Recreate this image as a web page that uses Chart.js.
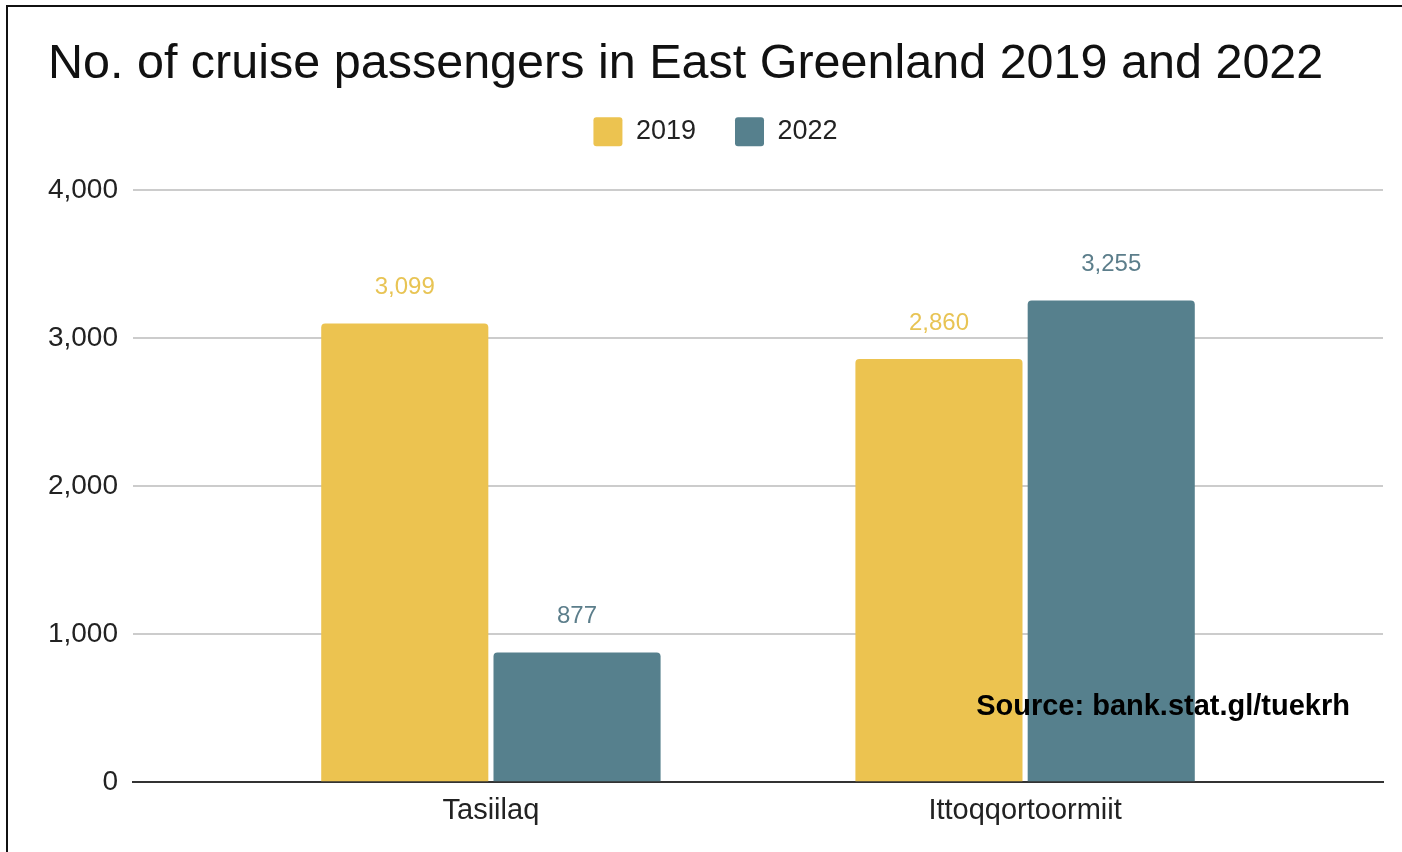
<!DOCTYPE html>
<html>
<head>
<meta charset="utf-8">
<title>Cruise passengers East Greenland</title>
<script src="https://cdn.jsdelivr.net/npm/chart.js@4.4.1/dist/chart.umd.min.js"></script>
<style>
  html, body { margin: 0; padding: 0; background: #fff; }
  #wrap { width: 1402px; height: 852px; position: relative; }
</style>
</head>
<body>
<div id="wrap"><canvas id="chart" width="1402" height="852"></canvas></div>
<script>
const towns = ['Tasiilaq', 'Ittoqqortoormiit'];
const seriesNames = ['2019', '2022'];
const passengers2019 = [3099, 2860];
const passengers2022 = [877, 3255];
const yTicks = [0, 1000, 2000, 3000, 4000];

const barColors = ['rgb(236, 195, 80)', 'rgb(86, 128, 141)'];
const labelColors = ['rgb(232, 196, 84)', 'rgb(92, 126, 139)'];
const fontFamily = '"Liberation Sans", Arial, Helvetica, sans-serif';

const fmt = v => v.toLocaleString('en-US');

// towns sit at x = 1, 2 on a linear axis so the plot can run wider than the groups
function toPoints(values) {
    return values.map((v, i) => ({ x: i + 1, y: v }));
}

// white page + the black frame on the top and left edge
const framePlugin = {
    id: 'frame',
    beforeDraw(chart) {
        const ctx = chart.ctx;
        ctx.save();
        ctx.fillStyle = '#fff';
        ctx.fillRect(0, 0, chart.width, chart.height);
        ctx.fillStyle = '#111';
        ctx.fillRect(6, 5, chart.width - 6, 2);
        ctx.fillRect(6, 5, 2, chart.height - 5);
        ctx.restore();
    }
};

// extra room between the legend and the plot
const legendSpacing = {
    id: 'legendSpacing',
    beforeInit(chart) {
        const originalFit = chart.legend.fit;
        chart.legend.fit = function fit() {
            originalFit.bind(chart.legend)();
            this.height += 34;
        };
    }
};

// value labels above each bar
const valueLabels = {
    id: 'valueLabels',
    afterDatasetsDraw(chart) {
        const ctx = chart.ctx;
        ctx.save();
        ctx.font = '24px ' + fontFamily;
        ctx.textAlign = 'center';
        ctx.textBaseline = 'middle';
        chart.data.datasets.forEach((ds, i) => {
            const meta = chart.getDatasetMeta(i);
            ctx.fillStyle = labelColors[i];
            meta.data.forEach((bar, j) => {
                ctx.fillText(fmt(ds.data[j].y), bar.x, bar.y - 36);
            });
        });
        ctx.restore();
    }
};

const sourceNote = {
    id: 'sourceNote',
    afterDraw(chart) {
        const { ctx, chartArea } = chart;
        ctx.save();
        ctx.font = 'bold 29px ' + fontFamily;
        ctx.fillStyle = '#000';
        ctx.textAlign = 'right';
        ctx.textBaseline = 'middle';
        ctx.fillText('Source: bank.stat.gl/tuekrh', chartArea.right - 33, chartArea.bottom - 75);
        ctx.restore();
    }
};

new Chart(document.getElementById('chart'), {
    type: 'bar',
    data: {
        datasets: [
            {
                label: seriesNames[0],
                data: toPoints(passengers2019),
                backgroundColor: barColors[0],
                borderRadius: 4,
                barPercentage: 0.97,
                categoryPercentage: 0.645
            },
            {
                label: seriesNames[1],
                data: toPoints(passengers2022),
                backgroundColor: barColors[1],
                borderRadius: 4,
                barPercentage: 0.97,
                categoryPercentage: 0.645
            }
        ]
    },
    options: {
        responsive: false,
        animation: false,
        layout: { padding: { left: 48, right: 19, top: 0, bottom: 13 } },
        plugins: {
            title: {
                display: true,
                text: 'No. of cruise passengers in East Greenland 2019 and 2022',
                align: 'start',
                color: '#111',
                font: { family: fontFamily, size: 48.5, weight: 'normal', lineHeight: 1.2 },
                padding: { top: 36, bottom: -16 }
            },
            legend: {
                position: 'top',
                labels: {
                    color: '#222',
                    font: { family: fontFamily, size: 27 },
                    boxWidth: 29,
                    boxHeight: 29,
                    padding: 39,
                    useBorderRadius: true,
                    borderRadius: 3
                }
            },
            tooltip: { enabled: false }
        },
        scales: {
            x: {
                type: 'linear',
                min: 0.33,
                max: 2.67,
                offset: false,
                z: 1,
                grid: { display: false, drawTicks: false },
                border: { display: true, color: '#333', width: 2 },
                afterBuildTicks(axis) {
                    axis.ticks = towns.map((t, i) => ({ value: i + 1 }));
                },
                ticks: {
                    autoSkip: false,
                    maxRotation: 0,
                    padding: 11,
                    color: '#222',
                    font: { family: fontFamily, size: 29 },
                    callback: v => towns[v - 1]
                }
            },
            y: {
                min: 0,
                max: 4000,
                afterBuildTicks(axis) {
                    axis.ticks = yTicks.map(v => ({ value: v }));
                },
                afterFit(axis) {
                    axis.width = 85;
                },
                grid: { color: '#cccccc', lineWidth: 2, drawTicks: false },
                border: { display: false },
                ticks: {
                    padding: 15,
                    color: '#222',
                    font: { family: fontFamily, size: 28 },
                    callback: v => fmt(v)
                }
            }
        }
    },
    plugins: [framePlugin, legendSpacing, valueLabels, sourceNote]
});
</script>
</body>
</html>
